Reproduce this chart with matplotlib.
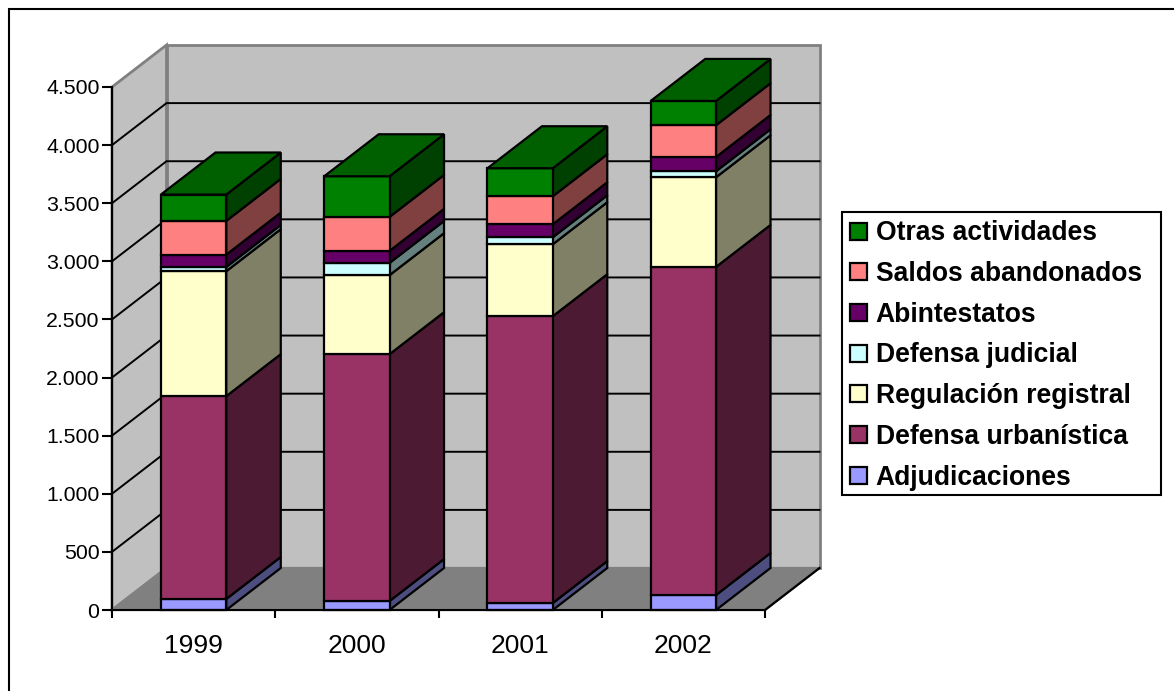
import matplotlib
matplotlib.use("Agg")
import matplotlib.pyplot as plt
from matplotlib.lines import Line2D
from matplotlib.patches import Polygon, Rectangle
from matplotlib.colors import to_rgb

years = ["1999", "2000", "2001", "2002"]
series_names = ["Adjudicaciones", "Defensa urbanística", "Regulación registral",
                "Defensa judicial", "Abintestatos", "Saldos abandonados", "Otras actividades"]
adjudicaciones = [95, 77, 60, 129]
defensa_urbanistica = [1745, 2124, 2468, 2823]
regulacion_registral = [1075, 680, 619, 771]
defensa_judicial = [37, 105, 60, 52]
abintestatos = [106, 104, 112, 123]
saldos_abandonados = [290, 292, 241, 273]
otras_actividades = [227, 350, 241, 209]
series_values = [adjudicaciones, defensa_urbanistica, regulacion_registral,
                 defensa_judicial, abintestatos, saldos_abandonados, otras_actividades]
colors = ["#9999ff", "#993366", "#ffffcc", "#ccffff", "#660066", "#ff8080", "#008000"]
y_ticks = [0, 500, 1000, 1500, 2000, 2500, 3000, 3500, 4000, 4500]

W, H = 1174, 691
plt.rcParams['font.family'] = ['Liberation Sans', 'DejaVu Sans']
fig = plt.figure(figsize=(W / 100, H / 100), dpi=100, facecolor="white")
# outer frame: only the top and left edges fall inside the picture
fig.add_artist(Line2D([9 / W, 9 / W, 1], [0, 1 - 9 / H, 1 - 9 / H], transform=fig.transFigure,
                      color="black", lw=1.5, solid_joinstyle="miter"))

L, R, T, B = 112, 765, 87, 610
ax = fig.add_axes([L / W, 1 - B / H, (R - L) / W, (B - T) / H])
ax.set_xlim(0, 4)
ax.set_ylim(0, 4500)
ax.patch.set_visible(False)
for s in ("top", "right"):
    ax.spines[s].set_visible(False)
for s in ("left", "bottom"):
    ax.spines[s].set_linewidth(1.5)
    ax.spines[s].set_zorder(50)

DX = 54.5 / ((R - L) / 4)
DY = 42 / ((B - T) / 4500)
LW = 1.6


def poly(pts, fc, ec="black", lw=LW, z=2):
    ax.add_patch(Polygon(pts, closed=True, fc=fc, ec=ec, lw=lw, zorder=z,
                         clip_on=False, joinstyle="miter"))


def shade(c, f):
    r = to_rgb(c)
    return (r[0] * f, r[1] * f, r[2] * f)


ymax = y_ticks[-1]
# walls and floor
poly([(0, 0), (DX, DY), (DX, ymax + DY), (0, ymax)], "#c0c0c0", ec="#808080", lw=2, z=1)
poly([(DX, DY), (4 + DX, DY), (4 + DX, ymax + DY), (DX, ymax + DY)], "#c0c0c0", ec="#808080", lw=2, z=1)
poly([(0, 0), (4, 0), (4 + DX, DY), (DX, DY)], "#808080", ec="#808080", z=1)
ax.plot([4, 4 + DX], [0, DY], color="black", lw=LW, zorder=1.5, clip_on=False)
# gridlines
for v in y_ticks[1:-1]:
    ax.plot([0, DX, 4 + DX], [v, v + DY, v + DY], color="black", lw=1.4, zorder=1.6,
            clip_on=False, solid_joinstyle="miter")

# stacked 3D bars
BW = 0.4
for i in range(len(years)):
    x0, x1 = i + 0.5 - BW / 2, i + 0.5 + BW / 2
    base = 0
    for name, vals, c in zip(series_names, series_values, colors):
        top = base + vals[i]
        poly([(x1, base), (x1 + DX, base + DY), (x1 + DX, top + DY), (x1, top)], shade(c, 0.5), z=3 + i)
        poly([(x0, base), (x1, base), (x1, top), (x0, top)], c, z=3 + i)
        base = top
    poly([(x0, base), (x1, base), (x1 + DX, base + DY), (x0 + DX, base + DY)],
         shade(colors[-1], 0.75), z=3 + i)

# axes
ax.set_yticks(y_ticks)
ax.set_yticklabels([f"{v:,}".replace(",", ".") for v in y_ticks], fontsize=15.3)
ax.set_xticks(range(5))
ax.set_xticklabels([])
ax.set_xticks([i + 0.5 for i in range(4)], minor=True)
ax.set_xticklabels(years, minor=True, fontsize=19)
ax.tick_params(axis="y", length=7, width=1.5, pad=2)
ax.tick_params(axis="x", which="major", length=6, width=1.5)
ax.tick_params(axis="x", which="minor", length=0, pad=17)

# legend box and entries
fig.add_artist(Rectangle((842 / W, 1 - 494.5 / H), 319 / W, 282.5 / H, transform=fig.transFigure,
                         fc="white", ec="black", lw=1.5))
handles = [Rectangle((0, 0), 1, 1, fc=c, ec="black", lw=LW) for c in colors]
leg = fig.legend(handles[::-1], series_names[::-1], loc="upper left",
                 bbox_to_anchor=(842 / W, 1 - 212 / H), bbox_transform=fig.transFigure,
                 prop={"family": "Liberation Sans", "weight": "bold", "size": 19.1},
                 frameon=False, borderaxespad=0, borderpad=0.32, labelspacing=0.553,
                 handlelength=0.62, handleheight=0.62, handletextpad=0.33)

fig.savefig("out.png", dpi=100, facecolor="white")
